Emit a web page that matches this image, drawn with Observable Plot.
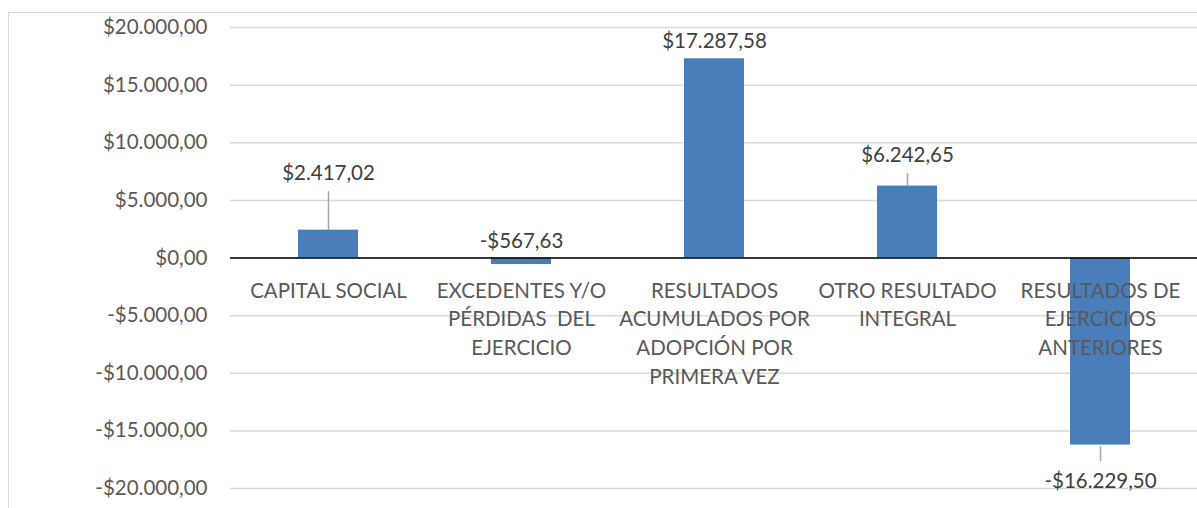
<!DOCTYPE html>
<html>
<head>
<meta charset="utf-8">
<script src="https://cdn.jsdelivr.net/npm/d3@7"></script>
<script src="https://cdn.jsdelivr.net/npm/@observablehq/plot@0.6"></script>
<style>
  html, body { margin: 0; padding: 0; background: #fff; overflow: hidden; }
  #wrap { position: relative; width: 1197px; height: 508px; }
  #frame { position: absolute; left: 8px; top: 12px; width: 1200px; height: 520px; border: 1.5px solid #d9d9d9; box-sizing: border-box; }
  #chart { position: absolute; left: 0; top: 0; }
</style>
</head>
<body>
<div id="wrap"><div id="frame"></div><div id="chart"></div></div>
<script>
// ---- data ----
const categories = [
  "CAPITAL SOCIAL",
  "EXCEDENTES Y/O PÉRDIDAS  DEL EJERCICIO",
  "RESULTADOS ACUMULADOS POR ADOPCIÓN POR PRIMERA VEZ",
  "OTRO RESULTADO INTEGRAL",
  "RESULTADOS DE EJERCICIOS ANTERIORES"
];
const categoryTickLabels = [
  "CAPITAL SOCIAL",
  "EXCEDENTES Y/O\nPÉRDIDAS  DEL\nEJERCICIO",
  "RESULTADOS\nACUMULADOS POR\nADOPCIÓN POR\nPRIMERA VEZ",
  "OTRO RESULTADO\nINTEGRAL",
  "RESULTADOS DE\nEJERCICIOS\nANTERIORES"
];
const values = [2417.02, -567.63, 17287.58, 6242.65, -16229.50];
const yTicks = [-20000, -15000, -10000, -5000, 0, 5000, 10000, 15000, 20000];

// ---- layout / style ----
const W = 1197, H = 508;
const mTop = 27, mBottom = H - 488, mLeft = 230, mRight = 0;
const yDomain = [-20000, 20000];
const pxPerUnit = (H - mTop - mBottom) / (yDomain[1] - yDomain[0]);
const font = "Lato, 'Open Sans', sans-serif";
const fs = 20.5;
// value label pixel offsets from the bar end (dy) and leader lines [from, to] in px
const labelDy = [-57, -23, -17, -31, 36];
const leaders = [[0, -39], null, null, [0, -13], [1, 16]];

const fmtNum = v => {
  const s = Math.abs(v).toFixed(2).split(".");
  const int = s[0].replace(/\B(?=(\d{3})+(?!\d))/g, ".");
  return (v < 0 ? "-$" : "$") + int + "," + s[1];
};

const rows = categories.map((c, i) => ({cat: c, tick: categoryTickLabels[i], value: values[i], i}));

const marks = [
  Plot.gridY(yTicks, {stroke: "#d9d9d9", strokeOpacity: 1, strokeWidth: 1.5}),
  Plot.barY(rows, {x: "cat", y: "value", fill: "#4a7ebb"}),
  Plot.ruleY([0], {stroke: "#000", strokeWidth: 1.5}),
  Plot.text(rows, {
    x: "cat", y: 0, text: "tick", lineAnchor: "top", textAnchor: "middle",
    dy: 19, lineHeight: 1.41, fontSize: fs, fill: "#595959", fontFamily: font
  }),
  Plot.axisY(yTicks, {
    label: null, tickFormat: fmtNum, tickSize: 0, tickPadding: 23, fontSize: fs,
    fill: "#595959", fontFamily: font
  })
];
rows.forEach((r, i) => {
  marks.push(Plot.text([r], {
    x: "cat", y: "value", text: d => fmtNum(d.value), dy: labelDy[i],
    fontSize: fs, fill: "#404040", fontFamily: font, textAnchor: "middle"
  }));
  const L = leaders[i];
  if (L) {
    marks.push(Plot.link([r], {
      x1: "cat", x2: "cat",
      y1: d => d.value - L[0] / pxPerUnit,
      y2: d => d.value - L[1] / pxPerUnit,
      stroke: "#a6a6a6", strokeWidth: 1.5
    }));
  }
});

const chart = Plot.plot({
  width: W, height: H,
  marginTop: mTop, marginBottom: mBottom, marginLeft: mLeft, marginRight: mRight,
  style: {background: "transparent", fontFamily: font},
  x: {domain: categories, paddingInner: 0.69, paddingOuter: 0.345, axis: null},
  y: {domain: yDomain, axis: null},
  marks
});
document.getElementById("chart").appendChild(chart);
</script>
</body>
</html>
